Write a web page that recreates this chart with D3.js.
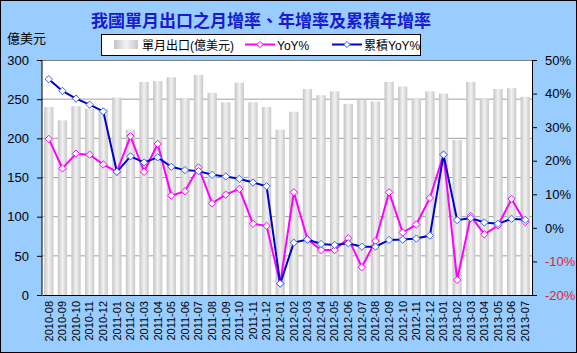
<!DOCTYPE html>
<meta charset="utf-8">
<style>
body{margin:0;background:#fff;}
svg text{font-family:"Liberation Sans",Arial,"Noto Sans CJK TC",sans-serif;}
</style>
<svg id="chart" width="577" height="353"></svg>
<script src="https://d3js.org/d3.v7.min.js"></script>
<script>
// months on the x axis
const months = ["2010-08","2010-09","2010-10","2010-11","2010-12",
  "2011-01","2011-02","2011-03","2011-04","2011-05","2011-06","2011-07","2011-08","2011-09","2011-10","2011-11","2011-12",
  "2012-01","2012-02","2012-03","2012-04","2012-05","2012-06","2012-07","2012-08","2012-09","2012-10","2012-11","2012-12",
  "2013-01","2013-02","2013-03","2013-04","2013-05","2013-06","2013-07"]

// monthly exports, 億美元
const exports = [240,223,241,238,237, 252,211,272,273,278,251,281,258,246,271,246,240,
  211,234,263,255,260,244,249,247,272,266,250,260, 257,198,272,250,263,264,253]

// YoY %
const yoy = [26.5,17.7,22.1,21.8,18.9, 16.7,27.3,16.7,25.0,9.6,10.9,18.0,7.3,9.9,11.6,1.2,0.6,
  -16.6,10.6,-3.4,-6.6,-6.6,-3.1,-11.7,-3.9,10.6,-1.4,1.0,8.9, 21.8,-15.5,3.5,-1.9,0.7,8.6,1.7]

// cumulative YoY %
const cumYoy = [44.3,40.8,38.5,36.7,34.7, 16.7,21.3,19.5,21.0,18.2,17.2,16.9,15.8,15.3,14.6,13.5,12.4,
  -16.6,-4.4,-3.5,-4.8,-5.1,-4.6,-5.6,-5.6,-3.6,-3.5,-3.2,-2.3, 21.8,2.3,2.9,1.6,1.2,2.7,2.4]

const leftTicks = [0,50,100,150,200,250,300]
const rightTicks = [-20,-10,0,10,20,30,40,50]

const W = 577, H = 353
const pLeft = 42, pRight = 532, pTop = 60, pBottom = 295

const svg = d3.select('#chart')

// gradient for the bars
const defs = svg.append('defs')
const grad = defs.append('linearGradient').attr('id','barGrad')
  .attr('x1','0').attr('x2','1').attr('y1','0').attr('y2','0')
grad.append('stop').attr('offset','0').attr('stop-color','#c4c4c4')
grad.append('stop').attr('offset','0.5').attr('stop-color','#f2f2f2')
grad.append('stop').attr('offset','1').attr('stop-color','#c8c8c8')

// background + border
svg.append('rect').attr('x',0.5).attr('y',0.5).attr('width',W-1).attr('height',H-1)
  .attr('fill','#99ccff').attr('stroke','#000')
svg.append('rect').attr('x',pLeft).attr('y',pTop).attr('width',pRight-pLeft).attr('height',pBottom-pTop)
  .attr('fill','#fff')

const x = d3.scaleBand().domain(months).range([pLeft,pRight]).paddingInner(0.32).paddingOuter(0.16)
const yL = d3.scaleLinear().domain([0,300]).range([pBottom,pTop])
const yR = d3.scaleLinear().domain([-20,50]).range([pBottom,pTop])
const cx = d => x(d) + x.bandwidth()/2

// gridlines
svg.append('g').selectAll('line').data(leftTicks.slice(1,-1)).enter().append('line')
  .attr('x1',pLeft).attr('x2',pRight).attr('y1',d=>yL(d)).attr('y2',d=>yL(d))
  .attr('stroke','#a0a0a0')
svg.append('line').attr('x1',pLeft).attr('x2',pRight).attr('y1',pTop+0.5).attr('y2',pTop+0.5)
  .attr('stroke','#808080')

// bars
svg.append('g').selectAll('rect').data(exports).enter().append('rect')
  .attr('x',(d,i)=>x(months[i]))
  .attr('width',x.bandwidth())
  .attr('y',d=>yL(d))
  .attr('height',d=>pBottom-yL(d))
  .attr('fill','url(#barGrad)')

// axes
const axL = svg.append('g').attr('transform',`translate(${pLeft},0)`)
  .call(d3.axisLeft(yL).tickValues(leftTicks).tickSize(5).tickPadding(8))
const axR = svg.append('g').attr('transform',`translate(${pRight},0)`)
  .call(d3.axisRight(yR).tickValues(rightTicks).tickSize(5).tickPadding(8).tickFormat(d=>d+'%'))
const axB = svg.append('g').attr('transform',`translate(0,${pBottom})`)
  .call(d3.axisBottom(x).tickSize(0).tickPadding(6))
;[axL,axR,axB].forEach(a=>{
  a.selectAll('path,line').attr('stroke','#000')
  a.selectAll('text').attr('font-size',12).attr('fill','#000')
    .attr('font-family','"Liberation Sans",Arial,sans-serif')
})
axL.select('.domain').attr('d',`M0,${pTop}V${pBottom}`)
axL.selectAll('text').attr('font-size',13)
axR.selectAll('text').attr('font-size',13).attr('fill',d=>d<0?'#e8202a':'#000')
axB.selectAll('text').attr('font-size',11)
  .attr('transform','rotate(-90)')
  .attr('text-anchor','end').attr('dx','-6').attr('dy','0.35em').attr('x',0).attr('y',0)

// lines
function series(vals, color, markerStroke){
  const line = d3.line().x((d,i)=>cx(months[i])).y(d=>yR(d))
  svg.append('path').datum(vals).attr('d',line).attr('fill','none')
    .attr('stroke',color).attr('stroke-width',2)
  svg.append('g').selectAll('path').data(vals).enter().append('path')
    .attr('d',d3.symbol(d3.symbolDiamond2,34))
    .attr('transform',(d,i)=>`translate(${cx(months[i])},${yR(d)})`)
    .attr('fill','#fff').attr('stroke',markerStroke).attr('stroke-width',1)
}
series(yoy,'#ff00ff','#ff00ff')
series(cumYoy,'#0000cc','#3366ff')

// title and unit
svg.append('text').attr('x',261).attr('y',27).attr('text-anchor','middle')
  .attr('font-size',17).attr('font-weight','bold').attr('fill','#1a1ad0')
  .attr('font-family','"Noto Sans CJK TC",sans-serif')
  .text('我國單月出口之月增率、年增率及累積年增率')
svg.append('text').attr('x',7).attr('y',43).attr('font-size',13)
  .attr('font-family','"Noto Sans CJK TC",sans-serif').text('億美元')

// legend
const lg = svg.append('g')
lg.append('rect').attr('x',101.5).attr('y',34.5).attr('width',319).attr('height',21)
  .attr('fill','#fff').attr('stroke','#000')
lg.append('rect').attr('x',114).attr('y',40).attr('width',24).attr('height',9).attr('fill','url(#barGrad)')
lg.append('text').attr('x',142).attr('y',49.5).attr('font-size',12)
  .attr('font-family','"Noto Sans CJK TC",sans-serif').text('單月出口(億美元)')
const legendLines = [
  {x:245, color:'#ff00ff', stroke:'#ff00ff', label:'YoY%'},
  {x:332, color:'#0000cc', stroke:'#3366ff', label:'累積YoY%'}
]
legendLines.forEach(l=>{
  lg.append('line').attr('x1',l.x).attr('x2',l.x+30).attr('y1',44.5).attr('y2',44.5)
    .attr('stroke',l.color).attr('stroke-width',2)
  lg.append('path').attr('d',d3.symbol(d3.symbolDiamond2,24))
    .attr('transform',`translate(${l.x+15},44.5)`).attr('fill','#fff').attr('stroke',l.stroke)
  lg.append('text').attr('x',l.x+32).attr('y',49.5).attr('font-size',12)
    .attr('font-family','"Liberation Sans","Noto Sans CJK TC",sans-serif').text(l.label)
})
</script>
